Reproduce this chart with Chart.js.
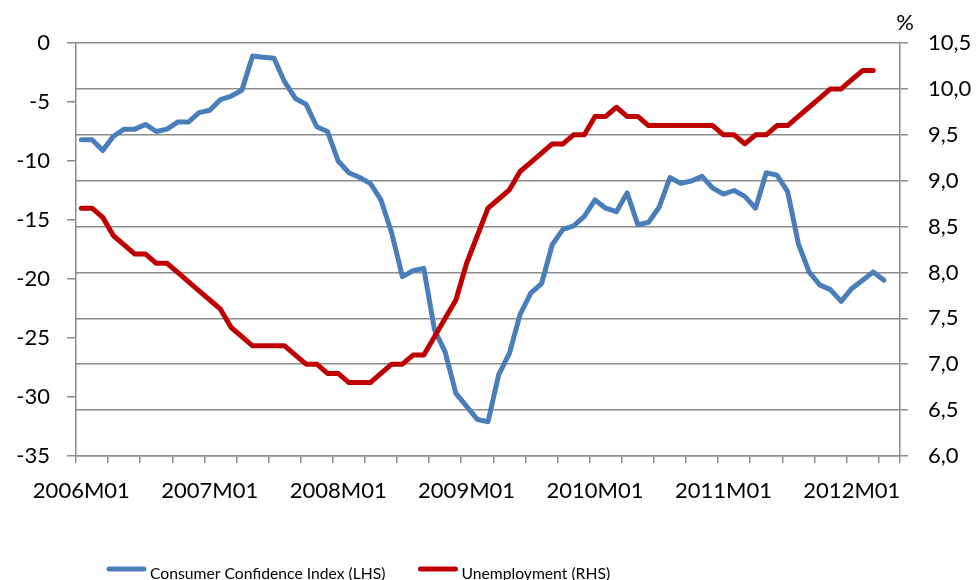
<!DOCTYPE html>
<html>
<head>
<meta charset="utf-8">
<script src="https://cdn.jsdelivr.net/npm/chart.js@4/dist/chart.umd.min.js"></script>
<style>
  html, body { margin: 0; padding: 0; background: #fff; }
  #wrap { width: 976px; height: 580px; }
</style>
</head>
<body>
<div id="wrap"><canvas id="chart" width="976" height="580"></canvas></div>
<script>
// months 2006M01 .. 2012M05
const months = [];
for (let y = 2006; y <= 2012; y++) {
  for (let m = 1; m <= 12; m++) {
    if (y === 2012 && m > 5) break;
    months.push(y + "M" + String(m).padStart(2, "0"));
  }
}

const confidence = [
  -8.2, -8.2, -9.1, -7.9, -7.3, -7.3, -6.9, -7.5, -7.3, -6.7, -6.7, -5.9,
  -5.7, -4.8, -4.5, -4.0, -1.1, -1.2, -1.3, -3.3, -4.7, -5.2, -7.1, -7.5,
  -10.0, -11.0, -11.4, -11.9, -13.3, -16.1, -19.8, -19.3, -19.1, -24.3, -26.2, -29.7,
  -30.8, -31.9, -32.1, -28.1, -26.3, -23.0, -21.2, -20.4, -17.1, -15.8, -15.5, -14.7,
  -13.3, -14.0, -14.3, -12.7, -15.4, -15.2, -13.9, -11.4, -11.9, -11.7, -11.3, -12.3,
  -12.8, -12.5, -13.0, -14.0, -11.0, -11.2, -12.6, -17.0, -19.4, -20.5, -20.9, -21.9,
  -20.8, -20.1, -19.4, -20.1
];

const unemployment = [
  8.7, 8.7, 8.6, 8.4, 8.3, 8.2, 8.2, 8.1, 8.1, 8.0, 7.9, 7.8,
  7.7, 7.6, 7.4, 7.3, 7.2, 7.2, 7.2, 7.2, 7.1, 7.0, 7.0, 6.9,
  6.9, 6.8, 6.8, 6.8, 6.9, 7.0, 7.0, 7.1, 7.1, 7.3, 7.5, 7.7,
  8.1, 8.4, 8.7, 8.8, 8.9, 9.1, 9.2, 9.3, 9.4, 9.4, 9.5, 9.5,
  9.7, 9.7, 9.8, 9.7, 9.7, 9.6, 9.6, 9.6, 9.6, 9.6, 9.6, 9.6,
  9.5, 9.5, 9.4, 9.5, 9.5, 9.6, 9.6, 9.7, 9.8, 9.9, 10.0, 10.0,
  10.1, 10.2, 10.2
];

const seriesNames = ["Consumer Confidence Index (LHS)", "Unemployment (RHS)"];
const seriesColors = ["#4A7EBB", "#C00000"];

const FONT = "Lato, 'Open Sans', sans-serif";
const GRID = "#8c8c8c";

const legendPlugin = {
  id: "manualLegend",
  afterDraw(chart) {
    const ctx = chart.ctx;
    ctx.save();
    ctx.font = "15.7px " + FONT;
    ctx.textBaseline = "middle";
    ctx.fillStyle = "#000";
    let x = 107;
    const y = 571;
    seriesNames.forEach((name, i) => {
      ctx.strokeStyle = seriesColors[i];
      ctx.lineWidth = 5;
      ctx.lineCap = "round";
      ctx.beginPath();
      ctx.moveTo(x + 2, y - 2);
      ctx.lineTo(x + 37, y - 2);
      ctx.stroke();
      ctx.fillText(name, x + 43, y + 3);
      x += 43 + ctx.measureText(name).width + 33;
    });
    // unit over the right axis
    ctx.font = "22px " + FONT;
    ctx.textAlign = "center";
    ctx.fillText("%", 905, 23);
    ctx.restore();
  }
};

new Chart(document.getElementById("chart"), {
  type: "line",
  data: {
    labels: months,
    datasets: [
      {
        label: seriesNames[0],
        data: confidence,
        yAxisID: "y",
        borderColor: seriesColors[0],
        backgroundColor: seriesColors[0],
        borderWidth: 5,
        pointRadius: 0,
        tension: 0,
        borderJoinStyle: "round",
        borderCapStyle: "round",
        order: 2
      },
      {
        label: seriesNames[1],
        data: unemployment,
        yAxisID: "y2",
        borderColor: seriesColors[1],
        backgroundColor: seriesColors[1],
        borderWidth: 5,
        pointRadius: 0,
        tension: 0,
        borderJoinStyle: "round",
        borderCapStyle: "round",
        order: 1
      }
    ]
  },
  options: {
    responsive: false,
    animation: false,
    layout: { padding: { top: 43, left: 0, right: 0, bottom: 0 } },
    plugins: {
      legend: { display: false },
      tooltip: { enabled: false }
    },
    scales: {
      x: {
        type: "category",
        offset: true,
        afterFit(scale) { scale.height = 124; },
        grid: {
          offset: true,
          drawOnChartArea: false,
          drawTicks: true,
          tickLength: 7,
          lineWidth: 1.5,
          color: (c) => (c.tick === undefined || c.index % 3 === 0) ? GRID : "rgba(0,0,0,0)"
        },
        border: { display: true, color: GRID, width: 1.5 },
        ticks: {
          autoSkip: false,
          maxRotation: 0,
          minRotation: 0,
          padding: 15,
          color: "#000",
          font: { family: FONT, size: 22 },
          callback(val, idx) { return idx % 12 === 0 ? this.getLabelForValue(val) : ""; }
        }
      },
      y: {
        position: "left",
        min: -35,
        max: 0,
        afterFit(scale) { scale.width = 76; },
        grid: { drawOnChartArea: false, drawTicks: true, tickLength: 9, color: GRID, lineWidth: 1.5 },
        border: { display: true, color: GRID, width: 1.5 },
        ticks: {
          stepSize: 5,
          padding: 17,
          color: "#000",
          font: { family: FONT, size: 22 }
        }
      },
      y2: {
        position: "right",
        min: 6,
        max: 10.5,
        afterFit(scale) { scale.width = 76; },
        grid: { drawOnChartArea: true, drawTicks: true, tickLength: 8, color: GRID, lineWidth: 1.5 },
        border: { display: true, color: GRID, width: 1.5 },
        ticks: {
          stepSize: 0.5,
          padding: 20,
          color: "#000",
          font: { family: FONT, size: 22 },
          callback: (v) => v.toFixed(1).replace(".", ",")
        }
      }
    }
  },
  plugins: [legendPlugin]
});
</script>
</body>
</html>
